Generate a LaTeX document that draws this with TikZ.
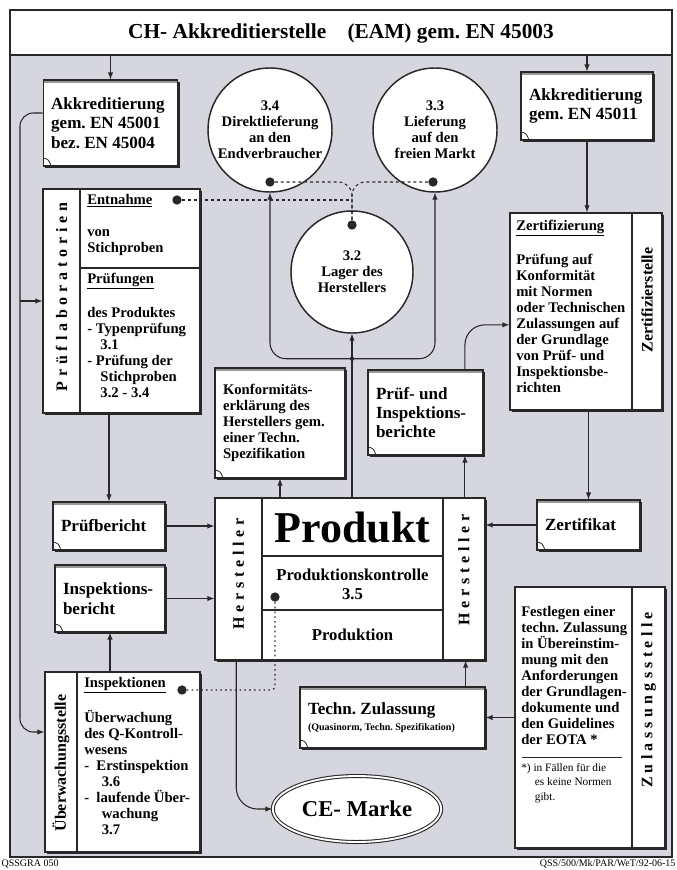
\documentclass[tikz,border=0pt]{standalone}
\usepackage{fontspec}
\setmainfont{Liberation Serif}
\usetikzlibrary{positioning,shapes.geometric,shadows,arrows}
\frenchspacing

\definecolor{panelgray}{RGB}{214,214,222}
\definecolor{ink}{RGB}{40,40,40}

\newcommand{\cellfont}{\bfseries\fontsize{11}{12}\selectfont}
\newcommand{\docfont}{\bfseries\fontsize{12.8}{14.5}\selectfont}

\tikzset{
  docbox/.style={draw=ink, fill=white, line width=0.9pt, align=flush left, inner xsep=6pt, inner ysep=3pt, font=\docfont,
    drop shadow={shadow xshift=1.5pt, shadow yshift=-1.5pt, fill=ink, opacity=1},
    path picture={
      \fill[black!40] (path picture bounding box.north west) rectangle ([yshift=-2.5pt]path picture bounding box.north east);
      \draw[ink, line width=0.6pt] ([yshift=6pt]path picture bounding box.south west)
        .. controls ([xshift=4pt,yshift=5pt]path picture bounding box.south west) .. ([xshift=6pt]path picture bounding box.south west);
    }},
  panel/.style={draw=ink, fill=white, line width=1.1pt,
    drop shadow={shadow xshift=1.2pt, shadow yshift=-1.2pt, fill=ink, opacity=1}},
  station/.style={circle, draw=ink, fill=white, line width=1.1pt, align=center, inner sep=0pt, font=\cellfont},
  bodytext/.style={anchor=north west, align=flush left, inner sep=0pt, font=\cellfont},
  striplabel/.style={rotate=90, inner sep=0pt, font=\bfseries\fontsize{12}{12}\selectfont},
  divider/.style={draw=ink, line width=0.8pt},
  dotmark/.style={circle, fill=ink, inner sep=0pt, minimum size=7pt},
  flow/.style={-latex, draw=ink, line width=0.8pt},
  dashline/.style={draw=ink, line width=0.8pt, dash pattern=on 2.2pt off 2.2pt},
  dotline/.style={draw=ink, line width=0.9pt, dash pattern=on 1.2pt off 2.4pt}
}

\begin{document}
\begin{tikzpicture}[x=0.75pt, y=-0.75pt]
  \useasboundingbox (0,0) rectangle (677,870);
  \fill[white] (0,0) rectangle (677,870);
  % frame and title band
  \filldraw[fill=panelgray, draw=ink, line width=1pt] (10,10) rectangle (672,857);
  \filldraw[fill=white, draw=ink, line width=1pt] (10,10) rectangle (672,55);
  \node[font=\bfseries\fontsize{16}{18}\selectfont] (title) at (341,33) {CH- Akkreditierstelle\quad (EAM) gem. EN 45003};
  \coordinate (band) at (0,55);
  \coordinate (rail) at (20,0);

  % documents
  \node[docbox, text width=89pt, minimum height=64.5pt] (akkA) at (110.5,123) {Akkreditierung\\gem. EN 45001\\bez. EN 45004};
  \node[docbox, text width=87pt, minimum height=51pt] (akkB) at (587,106) {Akkreditierung\\gem. EN 45011};
  \node[docbox, text width=85.5pt, minimum height=82.5pt, font=\cellfont] (konf) at (280,423) {Konformitäts-\\erklärung des\\Herstellers gem.\\einer Techn.\\Spezifikation};
  \node[docbox, text width=74.25pt, minimum height=63.75pt] (pib) at (425.5,412.5) {Prüf- und\\Inspektions-\\berichte};
  \node[docbox, text width=72pt, minimum height=36pt] (pbericht) at (109,526) {Prüfbericht};
  \node[docbox, text width=70.5pt, minimum height=50.25pt] (ibericht) at (110,598.5) {Inspektions-\\bericht};
  \node[docbox, text width=65.25pt, minimum height=37.5pt] (zertifikat) at (588.5,525) {Zertifikat};
  \node[docbox, text width=126.75pt, minimum height=45.75pt] (tz) at (392.5,717.5) {Techn. Zulassung\\[-3pt]{\fontsize{7.5}{8}\selectfont (Quasinorm, Techn. Spezifikation)}};

  % stations
  \node[station, minimum size=93pt] (c34) at (270,130) {3.4\\Direktlieferung\\an den\\Endverbraucher};
  \node[station, minimum size=93pt] (c33) at (435,130) {3.3\\Lieferung\\auf den\\freien Markt};
  \node[station, minimum size=91.5pt] (c32) at (352,272) {3.2\\Lager des\\Herstellers};
  \node[ellipse, draw=ink, double, double distance=1.4pt, fill=white, line width=0.8pt, minimum width=108pt, minimum height=49.5pt,
        font=\bfseries\fontsize{17}{17}\selectfont] (ce) at (357,809) {CE- Marke};

  % Pruflaboratorien
  \node[panel, minimum width=117.75pt, minimum height=168pt] (pruef) at (121.5,301) {};
  \draw[divider] (80,189) -- (80,413);
  \draw[divider] (80,268) -- (200,268);
  \node[striplabel] at (61.5,297) {\addfontfeatures{LetterSpace=30}Prüflaboratorien};
  \node[bodytext] at (87,194) {\underline{Entnahme}\\[12pt]von\\Stichproben};
  \node[bodytext] at (87,273) {\underline{Prüfungen}\\[12pt]des Produktes\\- Typenprüfung\\\hspace*{0.9em}3.1\\- Prüfung der\\\hspace*{0.9em}Stichproben\\\hspace*{0.9em}3.2 - 3.4};

  % Zertifizierstelle
  \node[panel, minimum width=114pt, minimum height=147.75pt] (zert) at (586,311.5) {};
  \draw[divider] (632,213) -- (632,410);
  \node[striplabel] at (647,300) {Zertifizierstelle};
  \node[bodytext] at (516,220) {\underline{Zertifizierung}\\[12pt]Prüfung auf\\Konformität\\mit Normen\\oder Technischen\\Zulassungen auf\\der Grundlage\\von Prüf- und\\Inspektionsbe-\\richten};

  % Produkt
  \node[panel, minimum width=202.5pt, minimum height=121.5pt] (produkt) at (350,579) {};
  \draw[divider] (262,498) -- (262,660);
  \draw[divider] (443,498) -- (443,660);
  \draw[divider] (262,556) -- (443,556);
  \draw[divider] (262,610) -- (443,610);
  \node[striplabel] at (238.5,574) {\addfontfeatures{LetterSpace=30}Hersteller};
  \node[striplabel] at (464,570) {\addfontfeatures{LetterSpace=30}Hersteller};
  \node[font=\bfseries\fontsize{33}{33}\selectfont] at (352.5,527) {Produkt};
  \node[align=center, font=\bfseries\fontsize{12.5}{14}\selectfont] at (352.5,584) {Produktionskontrolle\\3.5};
  \node[font=\bfseries\fontsize{12.5}{14}\selectfont] at (352.5,635) {Produktion};

  % Ueberwachungsstelle
  \node[panel, minimum width=116.25pt, minimum height=135pt] (ueber) at (122.5,762) {};
  \draw[divider] (77,672) -- (77,852);
  \node[striplabel] at (61,763) {Überwachungsstelle};
  \node[bodytext] at (84,677) {\underline{Inspektionen}\\[12pt]Überwachung\\des Q-Kontroll-\\wesens\\- \ Erstinspektion\\\hspace*{1.2em}3.6\\- \ laufende Über-\\\hspace*{1.2em}wachung\\\hspace*{1.2em}3.7};

  % Zulassungsstelle
  \node[panel, minimum width=112.5pt, minimum height=195.75pt] (zul) at (590,717.5) {};
  \draw[divider] (632,587) -- (632,848);
  \node[striplabel] at (648.5,700) {\addfontfeatures{LetterSpace=27}Zulassungsstelle};
  \node[bodytext] at (521,606) {Festlegen einer\\techn. Zulassung\\in Übereinstim-\\mung mit den\\Anforderungen\\der Grundlagen-\\dokumente und\\den Guidelines\\der EOTA *};
  \draw[divider, line width=0.5pt] (522,757) -- (622,757);
  \node[bodytext, font=\fontsize{8.5}{11}\selectfont] at (521,763) {*) in Fällen für die\\\hspace*{1.2em}es keine Normen\\\hspace*{1.2em}gibt.};

  % dots and sample links
  \node[dotmark] (dotPr) at (177,200) {};
  \node[dotmark] (dot34) at (270,182) {};
  \node[dotmark] (dot33) at (433,182) {};
  \node[dotmark] (dot32) at (352,225) {};
  \node[dotmark] (dotPk) at (275,597) {};
  \node[dotmark] (dotUe) at (182,690) {};
  \draw[dashline, rounded corners=10pt] (dot34) -| (dot32);
  \draw[dashline, rounded corners=10pt] (dot33) -| (dot32);
  \draw[dashline] (dotPr) -- (dotPr -| dot32);
  \draw[dotline, rounded corners=3pt] (dotPk) |- (dotUe);

  % flows
  \draw[flow] (akkA.north |- band) -- (akkA.north);
  \draw[flow] (akkB.north |- band) -- (akkB.north);
  \draw[flow] (akkB.south) -- (akkB.south |- zert.north);
  \draw[flow] (zertifikat.north |- zert.south) -- (zertifikat.north);
  \draw[flow] (zertifikat.west) -- (zertifikat.west -| produkt.east);
  \coordinate (aout) at ([yshift=7.5pt]akkA.west);
  \coordinate (uein) at ([yshift=22.5pt]ueber.west);
  \draw[flow, rounded corners=10pt] (aout) -| (rail |- uein) -- (uein);
  \draw[flow] (rail |- pruef.west) -- (pruef.west);
  \draw[flow] (pbericht.north |- pruef.south) -- (pbericht.north);
  \draw[flow] (pbericht.east) -- (pbericht.east -| produkt.west);
  \draw[flow] (ibericht.east) -- (ibericht.east -| produkt.west);
  \draw[flow] (ibericht.south |- ueber.north) -- (ibericht.south);
  \draw[flow] (konf.south |- produkt.north) -- (konf.south);
  \coordinate (pibfoot) at ([xshift=-14pt]pib.south east);
  \draw[flow] (pibfoot |- produkt.north) -- (pibfoot);
  \coordinate (pibtop) at ([xshift=-14pt]pib.north east);
  \draw[flow, rounded corners=15pt] (pibtop) |- ([yshift=-10pt]zert.west);
  \draw[flow] (c32.south |- produkt.north) -- (c32.south);
  \coordinate (fork) at ([yshift=-18.75pt]c32.south);
  \fill[ink] (fork) circle (1.6pt);
  \draw[flow, rounded corners=12pt] (fork) -| (c34.south);
  \draw[flow, rounded corners=12pt] (fork) -| (c33.south);
  \coordinate (pkfoot) at ([xshift=16.5pt]produkt.south west);
  \draw[flow, rounded corners=16pt] (pkfoot) |- (ce.west);
  \coordinate (tzhead) at ([xshift=-15pt]tz.north east);
  \draw[flow] (tzhead) -- (tzhead |- produkt.south);
  \draw[flow] (zul.west |- tz.east) -- (tz.east);

  % footer tags
  \node[anchor=south west, inner sep=1pt, font=\fontsize{7.5}{8}\selectfont] (tagL) at (0,870) {QSSGRA 050};
  \node[anchor=south east, inner sep=1pt, font=\fontsize{7.5}{8}\selectfont] (tagR) at (677,870) {QSS/500/Mk/PAR/WeT/92-06-15};
\end{tikzpicture}
\end{document}
